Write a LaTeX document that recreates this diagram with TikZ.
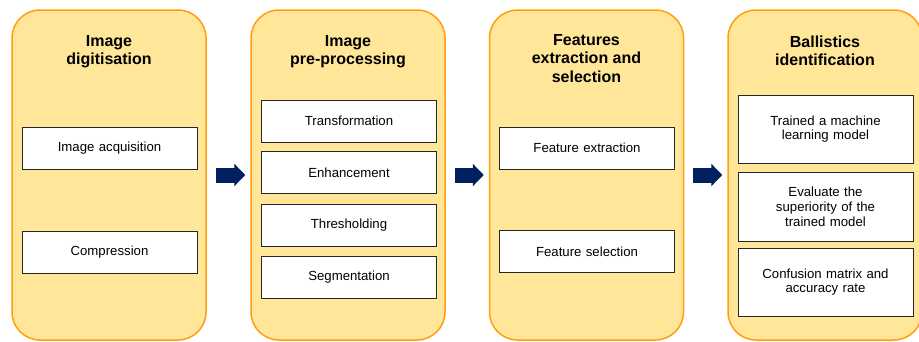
\documentclass[tikz,border=0pt]{standalone}
\usepackage{fontspec}
\setmainfont{Liberation Sans}
\usetikzlibrary{arrows.meta}
\definecolor{cyellow}{HTML}{FFE699}
\definecolor{corange}{HTML}{FF9F0F}
\definecolor{cnavy}{HTML}{002060}

\begin{document}
\begin{tikzpicture}[
    x=1pt, y=-1pt,
    stage/.style={draw=corange, fill=cyellow, line width=1.5pt, rounded corners=28pt,
                  minimum width=194pt, minimum height=330pt},
    title/.style={anchor=north, align=center, font=\fontsize{16}{18.3}\selectfont\bfseries},
    box/.style={draw=black!85, fill=white, line width=0.9pt, minimum width=175pt,
                text width=165pt, align=center, font=\fontsize{13.2}{14.8}\selectfont},
    arr/.style={-{Triangle[length=11pt, width=22pt]}, line width=15pt, color=cnavy,
                shorten <=9pt, shorten >=5pt},
  ]
  \clip (0,0) rectangle (919,341);

  %% Stages
  \node[stage] (dig)  at (109, 175) {};
  \node[stage] (pre)  at (348, 175) {};
  \node[stage] (feat) at (586.5, 175) {};
  \node[stage] (ball) at (825, 175) {};

  %% Titles
  \node[title] (digT)  at (109, 32)   {Image\\digitisation};
  \node[title] (preT)  at (348, 32)   {Image\\pre-processing};
  \node[title] (featT) at (586.5, 31) {Features\\extraction and\\selection};
  \node[title] (ballT) at (825, 32)   {Ballistics\\identification};

  %% Steps of each stage
  \node[box, minimum height=42pt] (acq)  at (109.5, 148) {Image acquisition};
  \node[box, minimum height=42pt] (comp) at (109.5, 252) {Compression};

  \node[box, minimum height=42pt] (trans)  at (349, 121)   {Transformation};
  \node[box, minimum height=42pt] (enh)    at (349, 172.5) {Enhancement};
  \node[box, minimum height=42pt] (thres)  at (349, 225.5) {Thresholding};
  \node[box, minimum height=42pt] (segm)   at (349, 277)   {Segmentation};

  \node[box, minimum height=42pt] (fext) at (587, 148)   {Feature extraction};
  \node[box, minimum height=42pt] (fsel) at (587, 251.5) {Feature selection};

  \node[box, minimum height=68pt] (train) at (825.5, 129)   {Trained a machine\\learning model};
  \node[box, minimum height=69pt] (eval)  at (825.5, 206.5) {Evaluate the\\superiority of the\\trained model};
  \node[box, minimum height=68pt] (conf)  at (825.5, 282)   {Confusion matrix and\\accuracy rate};

  %% Arrows
  \draw[arr] (dig)  -- (pre);
  \draw[arr] (pre)  -- (feat);
  \draw[arr] (feat) -- (ball);

\end{tikzpicture}
\end{document}
